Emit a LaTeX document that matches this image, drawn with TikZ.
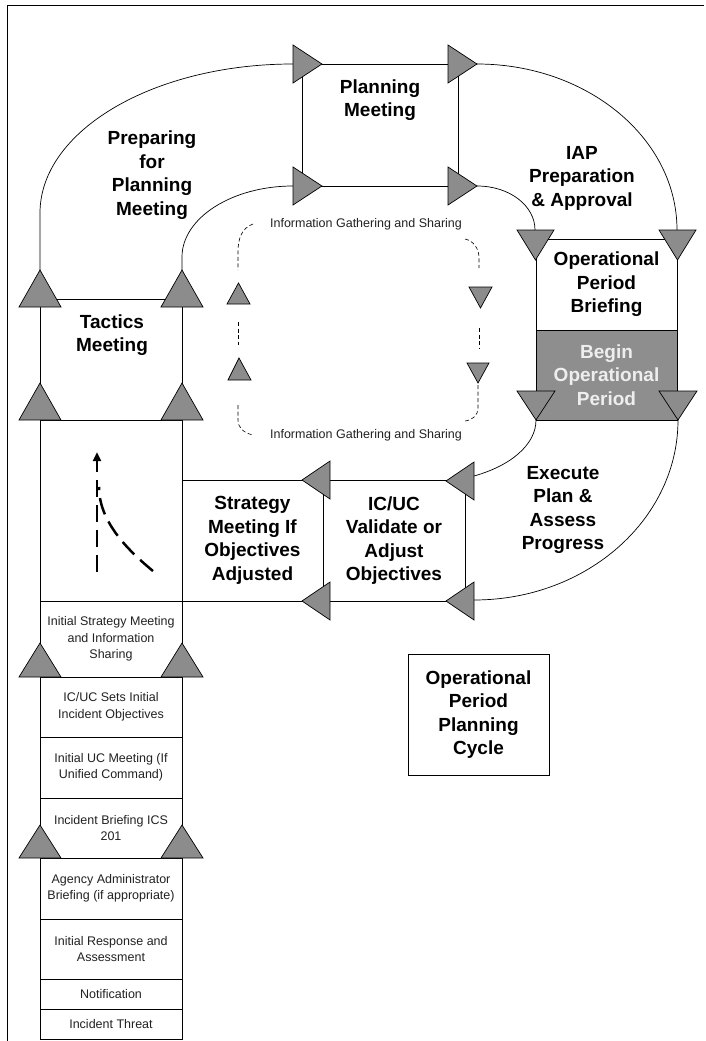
\documentclass[tikz,border=0pt]{standalone}
\usepackage{fontspec}
\setmainfont{Liberation Sans}
\usetikzlibrary{arrows.meta}
\definecolor{trigray}{HTML}{8C8C8C}
\definecolor{bopgray}{HTML}{8E8E8E}
\definecolor{boptext}{HTML}{EEEEEE}
\definecolor{smalltext}{HTML}{222222}
\begin{document}
\begin{tikzpicture}[x=1pt,y=-1pt,
  box/.style={draw=black, line width=0.8pt, inner sep=0pt, outer sep=0pt},
  colbox/.style={box, minimum width=142pt},
  big/.style={font=\fontsize{19}{23.5}\selectfont\bfseries, align=center, text=black, inner sep=0pt},
  small/.style={font=\fontsize{12.5}{16.5}\selectfont, align=center, text=smalltext},
  tri/.style={fill=trigray, draw=black, line width=0.7pt, line join=miter},
  conn/.style={line width=0.7pt},
  frame/.style={line width=0.8pt},
  loopline/.style={line width=0.6pt, dash pattern=on 4pt off 2.5pt},
  dasharrow/.style={line width=2.5pt, dash pattern=on 17pt off 8pt}
]
\useasboundingbox (0,0) rectangle (705,1041);
\fill[white] (0,0) rectangle (705,1041);

% frame
\coordinate (fA) at (7,1041);
\coordinate (fB) at (7,5);
\coordinate (fC) at (704,5);
\draw[frame] (fA) -- (fB) -- (fC);

% left column boxes
\node[colbox, minimum height=121pt] (tactics) at (111,359.5) {};
\node[colbox, minimum height=181pt] (dashbox) at (111,510.5) {};
\node[colbox, small, minimum height=76pt] (isms) at (111,639) {Initial Strategy Meeting\\and Information\\Sharing};
\node[colbox, small, minimum height=60pt] (sets) at (111,707) {IC/UC Sets Initial\\Incident Objectives};
\node[colbox, small, minimum height=61pt] (ucm) at (111,767.5) {Initial UC Meeting (If\\Unified Command)};
\node[colbox, small, minimum height=60pt] (ib) at (111,828) {Incident Briefing ICS\\201};
\node[colbox, small, minimum height=61pt] (aab) at (111,888.5) {Agency Administrator\\Briefing (if appropriate)};
\node[colbox, small, minimum height=60pt] (ira) at (111,949) {Initial Response and\\Assessment};
\node[colbox, small, minimum height=30pt] (notif) at (111,994) {Notification};
\node[colbox, small, minimum height=30pt] (threat) at (111,1024) {Incident Threat};

% other boxes
\node[box, minimum width=156pt, minimum height=122pt] (plan) at (380,125) {};
\node[box, big, minimum width=141pt, minimum height=91pt] (opb) at (606.5,284.5) {Operational\\Period\\Briefing};
\node[box, big, fill=bopgray, text=boptext, minimum width=141pt, minimum height=90pt] (bop) at (606.5,375) {Begin\\Operational\\Period};
\node[box, big, minimum width=141pt, minimum height=121pt] (strat) at (252.5,540.5) {Strategy\\Meeting If\\Objectives\\Adjusted};
\node[box, big, minimum width=142pt, minimum height=121pt] (icuc) at (394,540.5) {IC/UC\\Validate or\\Adjust\\Objectives};
\node[box, big, minimum width=141pt, minimum height=121pt] (cycle) at (478.5,714.5) {Operational\\Period\\Planning\\Cycle};

% free labels
\node[big] (tPrep) at (152,175) {Preparing\\for\\Planning\\Meeting};
\node[big] (tPlan) at (380,100) {Planning\\Meeting};
\node[big] (tIAP) at (582,178) {IAP\\Preparation\\\& Approval};
\node[big] (tTac) at (112,335) {Tactics\\Meeting};
\node[big] (tExec) at (563,510) {Execute\\Plan \&\\Assess\\Progress};
\node[small] (tInfoA) at (366,224) {Information Gathering and Sharing};
\node[small] (tInfoB) at (366,435) {Information Gathering and Sharing};

% connector end points
\coordinate (tA) at (40,270);
\coordinate (tB) at (182,270);
\coordinate (pA) at (293,64);
\coordinate (pB) at (293,186);
\coordinate (pC) at (477,64);
\coordinate (pD) at (477,186);
\coordinate (oA) at (677,230);
\coordinate (oB) at (535,230);
\coordinate (bA) at (536,420);
\coordinate (bB) at (678,420);
\coordinate (iA) at (474,476);
\coordinate (iB) at (474,600);

% arcs
\draw[conn] (tA) -- (40,213) .. controls (40,131) and (153,64) .. (pA);
\draw[conn] (tB) -- (182,257) .. controls (182,218) and (232,186) .. (pB);
\draw[conn] (pC) .. controls (587,64) and (677,138) .. (oA);
\draw[conn] (pD) .. controls (510,186) and (535,206) .. (oB);
\draw[conn] (bA) .. controls (536,445) and (510,466) .. (iA);
\draw[conn] (bB) .. controls (678,519) and (587,600) .. (iB);

% dashed information loop
\coordinate (gA) at (253,224);
\coordinate (gB) at (238,270);
\coordinate (gC) at (238,322);
\coordinate (gD) at (238,345);
\coordinate (gE) at (238,405);
\coordinate (gF) at (253,435);
\coordinate (hA) at (465,239);
\coordinate (hB) at (479,268);
\coordinate (hC) at (479,328);
\coordinate (hD) at (479,348);
\coordinate (hE) at (478,385);
\coordinate (hF) at (465,421);
\draw[loopline] (gA) .. controls (242,228) and (238,238) .. (238,252) -- (gB);
\draw[loopline] (gC) -- (gD);
\draw[loopline] (gE) -- (238,420) .. controls (238,428) and (244,433) .. (gF);
\draw[loopline] (hA) .. controls (474,241) and (479,249) .. (479,258) -- (hB);
\draw[loopline] (hC) -- (hD);
\draw[loopline] (hE) -- (478,408) .. controls (478,415) and (473,420) .. (hF);

% dashed arrows inside column
\coordinate (dA) at (97,572);
\coordinate (dB) at (97,452);
\coordinate (dC) at (153,571);
\coordinate (dD) at (99,487);
\draw[dasharrow, -{Triangle[length=9pt,width=8pt]}] (dA) -- (dB);
\draw[dasharrow] (dC) .. controls (125,548) and (99,520) .. (dD);

% triangles: column (up)
\foreach \cx in {40,182} {
  \foreach \ay/\by in {270/307, 383/420, 643/677, 825/858} {
    \draw[tri] (\cx-21,\by) -- (\cx+21,\by) -- (\cx,\ay) -- cycle;
  }
}
% right-pointing at planning meeting
\draw[tri] (293,45) -- (293,83) -- (322,64) -- cycle;
\draw[tri] (293,167) -- (293,205) -- (322,186) -- cycle;
\draw[tri] (448,45) -- (448,83) -- (477,64) -- cycle;
\draw[tri] (448,167) -- (448,205) -- (477,186) -- cycle;
% down-pointing at operational period briefing
\draw[tri] (517,230) -- (554,230) -- (535.5,260) -- cycle;
\draw[tri] (659,230) -- (696,230) -- (677.5,260) -- cycle;
\draw[tri] (517,391) -- (555,391) -- (536,420) -- cycle;
\draw[tri] (659,391) -- (697,391) -- (678,420) -- cycle;
% left-pointing at IC/UC and strategy
\draw[tri] (474,462) -- (474,500) -- (446,481) -- cycle;
\draw[tri] (474,582) -- (474,620) -- (446,601) -- cycle;
\draw[tri] (330,461) -- (330,499) -- (302,480) -- cycle;
\draw[tri] (330,582) -- (330,620) -- (302,601) -- cycle;
% small loop triangles
\draw[tri] (227,304) -- (250,304) -- (238.5,283) -- cycle;
\draw[tri] (228,380) -- (251,380) -- (239,358) -- cycle;
\draw[tri] (469,287) -- (492,287) -- (480.5,308) -- cycle;
\draw[tri] (467,363) -- (489,363) -- (478,383) -- cycle;
\end{tikzpicture}
\end{document}
